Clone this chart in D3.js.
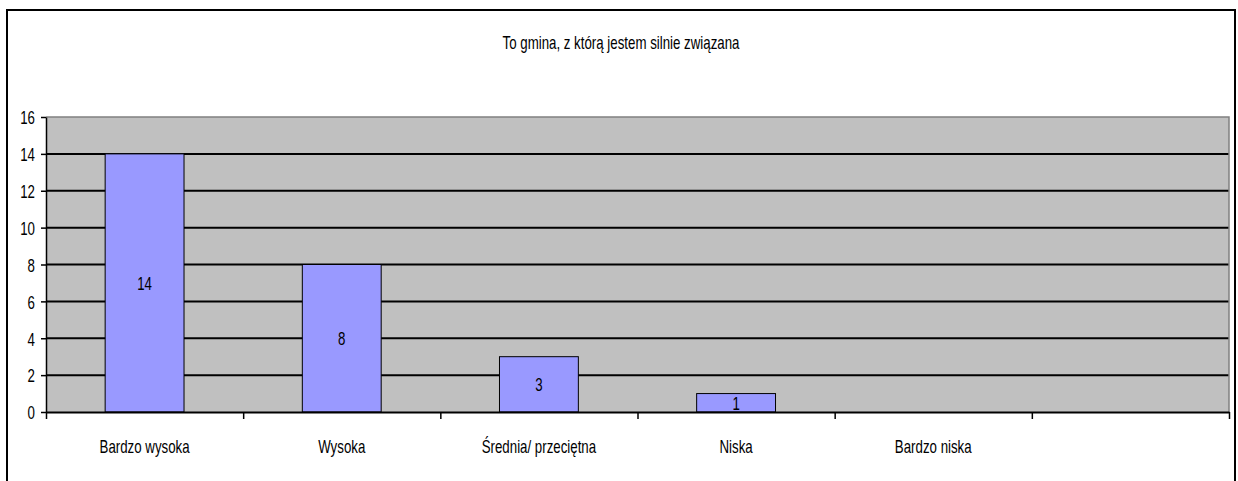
<!DOCTYPE html>
<html>
<head>
  <meta charset="utf-8">
  <title>To gmina, z którą jestem silnie związana</title>
  <script src="https://d3js.org/d3.v7.min.js"></script>
  <style>
    body { margin: 0; background: #fff; }
    text { font-family: "Liberation Sans", Arial, sans-serif; fill: #000; }
  </style>
</head>
<body>
<svg class="chart" width="1238" height="481"></svg>

<script>
// data
var categories = ["Bardzo wysoka", "Wysoka", "Średnia/ przeciętna", "Niska", "Bardzo niska", ""];
var values = [14, 8, 3, 1, null, null];
var yTicks = [0, 2, 4, 6, 8, 10, 12, 14, 16];
var title = "To gmina, z którą jestem silnie związana";

var margin = {top: 117, right: 9, bottom: 69, left: 46},
    width = 1238 - margin.left - margin.right,
    height = 481 - margin.top - margin.bottom;

var squeeze = 0.7,  // text in the original is drawn narrow
    fontSize = 19;

var svg = d3.select(".chart");

// outer frame
svg.append("rect")
    .attr("x", 7).attr("y", 10)
    .attr("width", 1228).attr("height", 490)
    .attr("fill", "#fff")
    .attr("stroke", "#000")
    .attr("stroke-width", 2);

function narrow(sel, x, y, anchor) {
  sel.attr("transform", "translate(" + x + "," + y + ") scale(" + squeeze + ",1)")
     .attr("text-anchor", anchor)
     .style("font-size", fontSize + "px");
}

svg.append("text")
    .text(title)
    .call(narrow, 621, 49, "middle");

var chart = svg.append("g")
    .attr("transform", "translate(" + margin.left + "," + margin.top + ")");

var x = d3.scaleBand()
    .domain(categories.map(function(d, i) { return i; }))
    .range([0, width])
    .paddingInner(0.6)
    .paddingOuter(0.3);

var xEdge = d3.scaleLinear()
    .domain([0, categories.length])
    .range([0, width]);

var y = d3.scaleLinear()
    .domain([0, 16])
    .range([height, 0]);

// plot background
chart.append("rect")
    .attr("width", width)
    .attr("height", height)
    .attr("fill", "#c0c0c0");

// gridlines
chart.selectAll(".grid")
    .data(yTicks.filter(function(d) { return d > 0 && d < 16; }))
  .enter().append("line")
    .attr("class", "grid")
    .attr("x1", 0).attr("x2", width)
    .attr("y1", function(d) { return y(d); })
    .attr("y2", function(d) { return y(d); })
    .attr("stroke", "#000")
    .attr("stroke-width", 2);

// top and right edge of plot area
chart.append("path")
    .attr("d", "M0," + y(16) + "H" + width + "V" + height)
    .attr("fill", "none")
    .attr("stroke", "#808080")
    .attr("stroke-width", 1.5);

// bars
var data = categories.map(function(c, i) { return {i: i, name: c, value: values[i]}; })
    .filter(function(d) { return d.value != null; });

chart.selectAll(".bar")
    .data(data)
  .enter().append("rect")
    .attr("class", "bar")
    .attr("x", function(d) { return x(d.i); })
    .attr("y", function(d) { return y(d.value); })
    .attr("width", x.bandwidth())
    .attr("height", function(d) { return height - y(d.value); })
    .attr("fill", "#9999ff")
    .attr("stroke", "#000")
    .attr("stroke-width", 1);

chart.selectAll(".lbl")
    .data(data)
  .enter().append("text")
    .attr("class", "lbl")
    .text(function(d) { return d.value; })
    .attr("dy", "0.36em")
    .each(function(d) {
      d3.select(this).call(narrow, x(d.i) + x.bandwidth() / 2, y(d.value / 2), "middle");
    });

// y axis
var yAxis = chart.append("g")
    .call(d3.axisLeft(y).tickValues(yTicks).tickSize(5).tickSizeOuter(0));
yAxis.select(".domain").attr("stroke-width", 1.5);
yAxis.selectAll(".tick line").attr("stroke-width", 1.5);
yAxis.selectAll(".tick text")
    .attr("x", null).attr("dy", "0.36em")
    .each(function() { d3.select(this).call(narrow, -11, 0, "end"); })
    .attr("font-family", null);

// x axis: ticks between categories
var xTickAxis = chart.append("g")
    .attr("transform", "translate(0," + height + ")")
    .call(d3.axisBottom(xEdge).tickValues(d3.range(categories.length + 1)).tickFormat("").tickSize(7).tickSizeOuter(0));
xTickAxis.select(".domain").attr("stroke-width", 2);
xTickAxis.selectAll(".tick line").attr("stroke-width", 1.5);

var xAxis = chart.append("g")
    .attr("transform", "translate(0," + height + ")")
    .call(d3.axisBottom(x).tickSize(0).tickFormat(function(i) { return categories[i]; }));
xAxis.select(".domain").remove();
xAxis.selectAll(".tick text")
    .attr("y", null).attr("dy", null)
    .each(function() { d3.select(this).call(narrow, 0, 41, "middle"); })
    .attr("font-family", null);
</script>
</body>
</html>
